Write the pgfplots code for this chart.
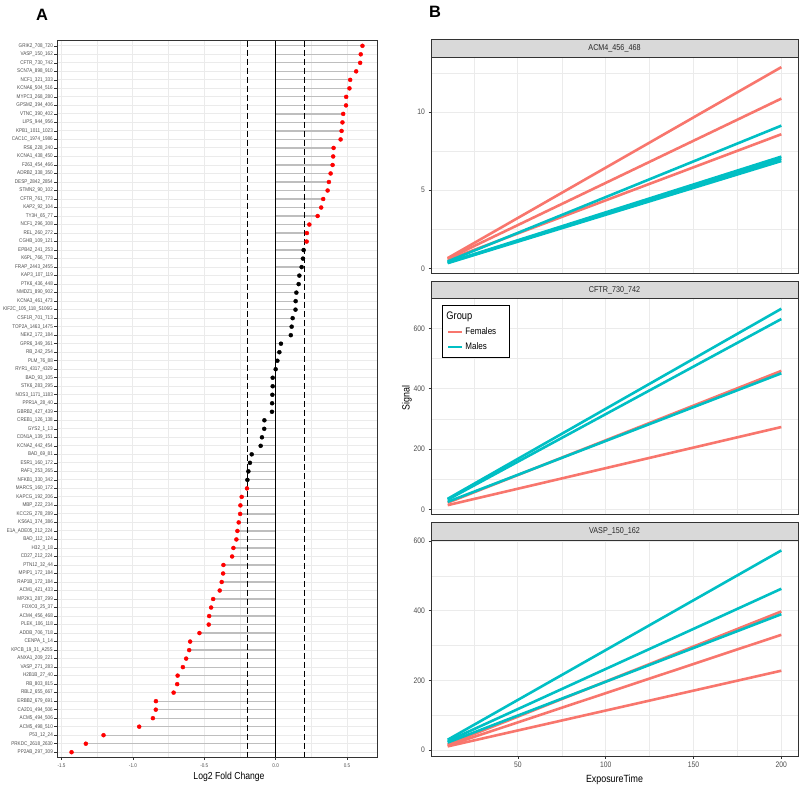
\documentclass[border=0pt]{standalone}
\usepackage{pgfplots}
\pgfplotsset{compat=1.18}
\usepackage{pgfplotstable}
\usepackage{fontspec}
\setmainfont{Liberation Sans}
\newfontfamily\nf{Liberation Sans}[FakeStretch=0.85]

\definecolor{fem}{HTML}{F8766D}
\definecolor{mal}{HTML}{00BFC4}
\definecolor{gridc}{HTML}{EBEBEB}
\definecolor{bord}{HTML}{333333}
\definecolor{tickc}{HTML}{4D4D4D}
\definecolor{stripc}{HTML}{D9D9D9}
\definecolor{stem}{HTML}{BEBEBE}

% log2 fold change per peptide, n = row from the top, s = significance class
\pgfplotstableread{
n v s
1 0.608 r
2 0.596 r
3 0.592 r
4 0.564 r
5 0.522 r
6 0.517 r
7 0.494 r
8 0.493 r
9 0.473 r
10 0.468 r
11 0.462 r
12 0.455 r
13 0.406 r
14 0.403 r
15 0.399 r
16 0.385 r
17 0.373 r
18 0.364 r
19 0.333 r
20 0.319 r
21 0.294 r
22 0.236 r
23 0.219 r
24 0.217 r
25 0.196 k
26 0.191 k
27 0.182 k
28 0.166 k
29 0.161 k
30 0.145 k
31 0.140 k
32 0.139 k
33 0.119 k
34 0.112 k
35 0.106 k
36 0.037 k
37 0.026 k
38 0.012 k
39 0.000 k
40 -0.021 k
41 -0.021 k
42 -0.023 k
43 -0.025 k
44 -0.026 k
45 -0.079 k
46 -0.080 k
47 -0.096 k
48 -0.105 k
49 -0.168 k
50 -0.180 k
51 -0.191 k
52 -0.198 k
53 -0.201 r
54 -0.238 r
55 -0.247 r
56 -0.249 r
57 -0.259 r
58 -0.268 r
59 -0.275 r
60 -0.296 r
61 -0.305 r
62 -0.366 r
63 -0.368 r
64 -0.378 r
65 -0.392 r
66 -0.438 r
67 -0.452 r
68 -0.466 r
69 -0.469 r
70 -0.534 r
71 -0.599 r
72 -0.606 r
73 -0.627 r
74 -0.650 r
75 -0.687 r
76 -0.690 r
77 -0.715 r
78 -0.839 r
79 -0.840 r
80 -0.860 r
81 -0.956 r
82 -1.206 r
83 -1.330 r
84 -1.430 r
}\lfc

\pgfplotsset{
  gg/.style={
    scale only axis, anchor=north west,
    axis line style={bord, line width=0.8bp},
    tick style={bord, line width=0.6bp},
    tick align=outside, major tick length=2.5bp, minor tick length=0pt,
    tick pos=left,
    xmajorgrids, xminorgrids, ymajorgrids, yminorgrids,
    major grid style={gridc, line width=0.9bp},
    minor grid style={gridc, line width=0.45bp},
    ticklabel style={text=tickc},
    /pgf/number format/assume math mode=true,
  },
  fb/.style={gg, width=367bp, height=216bp,
    xmin=0.5, xmax=209.5,
    xtick={50,100,150,200}, minor xtick={25,75,125,175},
    ticklabel style={font=\fontsize{8}{9}\nf},
  },
  fl/.style={line width=2.6bp, forget plot},
}

\begin{document}
\begin{tikzpicture}
\useasboundingbox (0,0) rectangle (800bp,-787bp);

% ---------- panel A ----------
\begin{axis}[gg, at={(57bp,-40.7bp)}, width=320bp, height=716.6bp,
  xmin=-1.532, xmax=0.71, ymin=0.4, ymax=84.6, y dir=reverse,
  xtick={-1.5,-1,-0.5,0,0.5}, xticklabels={-1.5,-1.0,-0.5,0.0,0.5},
  minor xtick={-1.25,-0.75,-0.25,0.25},
  ytick={1,...,84},
  yticklabels={GRIK2\_708\_720,VASP\_150\_162,CFTR\_730\_742,SCN7A\_898\_910,NCF1\_321\_333,
    KCNA6\_504\_516,MYPC3\_268\_280,GPSM2\_394\_406,VTNC\_390\_402,LIPS\_944\_956,
    KPB1\_1011\_1023,CAC1C\_1974\_1986,RS6\_228\_240,KCNA1\_438\_450,F263\_454\_466,
    ADRB2\_338\_350,DESP\_2842\_2854,STMN2\_90\_102,CFTR\_761\_773,KAP2\_92\_104,
    TY3H\_65\_77,NCF1\_296\_308,REL\_260\_272,CGHB\_109\_121,EPB42\_241\_253,
    K6PL\_766\_778,FRAP\_2443\_2455,KAP3\_107\_119,PTK6\_436\_448,NMDZ1\_890\_902,
    KCNA3\_461\_473,KIF2C\_105\_118\_S106G,CSF1R\_701\_713,TOP2A\_1463\_1475,NEK2\_172\_184,
    GPR6\_349\_361,RB\_242\_254,PLM\_76\_88,RYR1\_4317\_4329,BAD\_93\_105,
    STK6\_283\_295,NOS3\_1171\_1183,PPR1A\_28\_40,GBRB2\_427\_439,CREB1\_126\_138,
    GYS2\_1\_13,CDN1A\_139\_151,KCNA2\_442\_454,BAD\_69\_81,ESR1\_160\_172,
    RAF1\_253\_265,NFKB1\_330\_342,MARCS\_160\_172,KAPCG\_192\_206,MBP\_222\_234,
    KCC2G\_278\_289,KS6A1\_374\_386,E1A\_ADE05\_212\_224,BAD\_112\_124,H32\_3\_18,
    CD27\_212\_224,PTN12\_32\_44,MPIP1\_172\_184,RAP1B\_172\_184,ACM1\_421\_433,
    MP2K1\_287\_299,FOXO3\_25\_37,ACM4\_456\_468,PLEK\_106\_118,ADDB\_706\_718,
    CENPA\_1\_14,KPCB\_19\_31\_A25S,ANXA1\_209\_221,VASP\_271\_283,H2B1B\_27\_40,
    RB\_803\_815,RBL2\_655\_667,ERBB2\_679\_691,CA2D1\_494\_506,ACM5\_494\_506,
    ACM5\_498\_510,P53\_12\_24,PRKDC\_2618\_2630,PP2AB\_297\_309},
  ticklabel style={font=\fontsize{5.4}{6}\nf},
  yticklabel style={inner sep=1.5bp},
]
\addplot[xcomb, stem, line width=1.2bp, forget plot] table[x=v, y=n] {\lfc};
\draw[black, line width=1.1bp] (axis cs:0,0.4) -- (axis cs:0,84.6);
\draw[black, line width=1.1bp, dash pattern=on 6bp off 3bp] (axis cs:-0.2,0.4) -- (axis cs:-0.2,84.6);
\draw[black, line width=1.1bp, dash pattern=on 6bp off 3bp] (axis cs:0.2,0.4) -- (axis cs:0.2,84.6);
\addplot[scatter, only marks, scatter src=explicit symbolic,
  scatter/classes={r={mark=*, red, mark size=2bp}, k={mark=*, black, mark size=2bp}}]
  table[x=v, y=n, meta=s] {\lfc};
\end{axis}
\node[font=\fontsize{10.2}{12}\nf] at (229bp,-777bp) {Log2 Fold Change};
\node[anchor=base west, inner sep=0pt, font=\fontsize{16.5}{18}\bfseries] at (36bp,-20bp) {A};

% ---------- panel B ----------
\begin{axis}[fb, at={(431bp,-57.3bp)},
  ymin=-0.31, ymax=13.5, ytick={0,5,10}, minor ytick={2.5,7.5,12.5},
  xticklabels={}, xtick style={draw=none}]
\addplot[fem, fl] coordinates {(10,0.66) (200,12.87)};
\addplot[fem, fl] coordinates {(10,0.62) (200,10.86)};
\addplot[fem, fl] coordinates {(10,0.55) (200,8.58)};
\addplot[mal, fl] coordinates {(10,0.45) (200,9.13)};
\addplot[mal, fl] coordinates {(10,0.38) (200,7.15)};
\addplot[mal, fl] coordinates {(10,0.36) (200,7.02)};
\addplot[mal, fl] coordinates {(10,0.34) (200,6.87)};
\end{axis}

\begin{axis}[fb, at={(431bp,-298.8bp)},
  ymin=-18, ymax=698, ytick={0,200,400,600}, minor ytick={100,300,500},
  xticklabels={}, xtick style={draw=none},
  legend style={at={(0.031,0.971)}, anchor=north west, draw=black, line width=0.9bp,
    font=\fontsize{9.5}{11}\nf, inner xsep=4bp, inner ysep=4bp, row sep=3bp,
    cells={anchor=west}},
  legend image code/.code={\draw[#1, line width=2.6bp] (0bp,0bp) -- (14bp,0bp);},
]
\addplot[fem, fl] coordinates {(10,22) (200,459)};
\addplot[fem, fl] coordinates {(10,14) (200,273)};
\addplot[mal, fl] coordinates {(10,35) (200,665)};
\addplot[mal, fl] coordinates {(10,32) (200,631)};
\addplot[mal, fl] coordinates {(10,25) (200,451)};
\addlegendimage{empty legend}
\addlegendentry{\hspace*{-19bp}\fontsize{11}{13}\nf Group}
\addlegendimage{fem}
\addlegendentry{Females\hspace*{7bp}}
\addlegendimage{mal}
\addlegendentry{Males}
\end{axis}

\begin{axis}[fb, at={(431bp,-540.3bp)},
  ymin=-17.5, ymax=602, ytick={0,200,400,600}, minor ytick={100,300,500},
  xlabel={ExposureTime}, xlabel style={font=\fontsize{10.5}{12}\nf, text=black}]
\addplot[fem, fl] coordinates {(10,16) (200,398)};
\addplot[fem, fl] coordinates {(10,13) (200,331)};
\addplot[fem, fl] coordinates {(10,11) (200,228)};
\addplot[mal, fl] coordinates {(10,30) (200,573)};
\addplot[mal, fl] coordinates {(10,26) (200,463)};
\addplot[mal, fl] coordinates {(10,22) (200,390)};
\end{axis}

% facet strips
\foreach \t/\lab in {39.8/ACM4\_456\_468, 281.3/CFTR\_730\_742, 522.8/VASP\_150\_162}{
  \draw[bord, fill=stripc, line width=0.8bp] (431bp,-\t bp) rectangle (798bp,-\t bp-17.5bp);
  \node[font=\fontsize{8.5}{10}\nf, text=black!85] at (614.5bp,-\t bp-8.75bp) {\lab};
}
\node[rotate=90, font=\fontsize{10.5}{12}\nf] at (407bp,-398bp) {Signal};
\node[anchor=base west, inner sep=0pt, font=\fontsize{16.5}{18}\bfseries] at (429bp,-17bp) {B};
\end{tikzpicture}
\end{document}
